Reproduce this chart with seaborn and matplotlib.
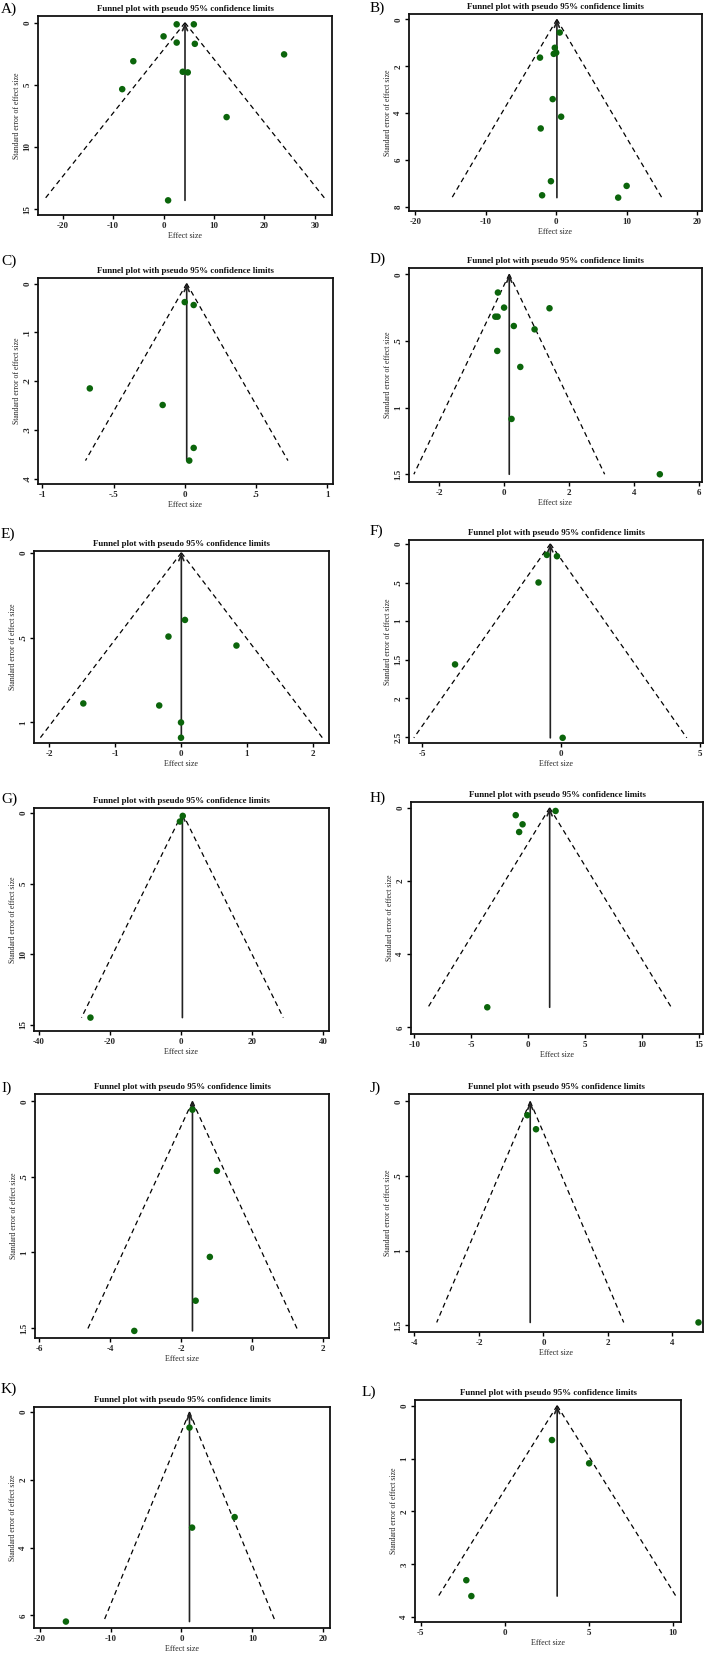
import numpy as np
import pandas as pd
import matplotlib
matplotlib.use("Agg")
import matplotlib.pyplot as plt
import seaborn as sns

# ---------------- data (effect size, standard error, pooled estimate) ----------------
panel_names = ["A)", "B)", "C)", "D)", "E)", "F)", "G)", "H)", "I)", "J)", "K)", "L)"]

es_A = [2.6, 6.0, 0.0, 2.6, 6.2, 23.9, -6.0, 3.8, 4.8, -8.2, 12.5, 0.9]
se_A = [0.13, 0.13, 1.1, 1.6, 1.7, 2.55, 3.1, 3.95, 4.0, 5.35, 7.6, 14.3]
theta_A = 4.25

es_B = [0.5, -0.2, 0.0, -0.35, -2.3, -0.5, 0.7, -2.2, -0.75, 10.0, -2.0, 8.8]
se_B = [0.56, 1.21, 1.42, 1.47, 1.63, 3.4, 4.15, 4.65, 6.9, 7.1, 7.5, 7.6]
theta_B = 0.1

es_C = [0.0, 0.063, -0.667, -0.155, 0.063, 0.032]
se_C = [0.038, 0.044, 0.215, 0.249, 0.337, 0.363]
theta_C = 0.014

es_D = [-0.19, 0.0, 1.40, -0.27, -0.20, 0.30, 0.94, -0.21, 0.50, 0.23, 4.80]
se_D = [0.137, 0.25, 0.255, 0.318, 0.318, 0.388, 0.413, 0.575, 0.695, 1.085, 1.50]
theta_D = 0.16

es_E = [0.06, -0.19, 0.84, -1.48, -0.33, 0.0, 0.0]
se_E = [0.396, 0.494, 0.547, 0.888, 0.90, 1.0, 1.09]
theta_E = 0.005

es_F = [-0.51, -0.145, -0.81, -3.82, 0.06]
se_F = [0.143, 0.16, 0.50, 1.56, 2.51]
theta_F = -0.385

es_G = [0.5, -0.3, -25.5]
se_G = [0.2, 0.6, 14.5]
theta_G = 0.4

es_H = [2.4, -1.1, -0.5, -0.8, -3.6]
se_H = [0.085, 0.2, 0.45, 0.66, 5.45]
theta_H = 1.88

es_I = [-1.68, -0.99, -1.19, -1.59, -3.32]
se_I = [0.055, 0.46, 1.03, 1.32, 1.52]
theta_I = -1.68

es_J = [-0.50, -0.23, 4.81]
se_J = [0.092, 0.186, 1.48]
theta_J = -0.41

es_K = [1.13, 7.5, 1.5, -16.3]
se_K = [0.46, 3.1, 3.41, 6.18]
theta_K = 1.13

es_L = [2.79, 5.0, -2.3, -2.0]
se_L = [0.65, 1.09, 3.3, 3.6]
theta_L = 3.1

# tick values / labels
xt_A = [-20, -10, 0, 10, 20, 30]; xl_A = ["-20", "-10", "0", "10", "20", "30"]
yt_A = [0, 5, 10, 15];            yl_A = ["0", "5", "10", "15"]
xt_B = [-20, -10, 0, 10, 20];     xl_B = ["-20", "-10", "0", "10", "20"]
yt_B = [0, 2, 4, 6, 8];           yl_B = ["0", "2", "4", "6", "8"]
xt_C = [-1, -0.5, 0, 0.5, 1];     xl_C = ["-1", "-.5", "0", ".5", "1"]
yt_C = [0, 0.1, 0.2, 0.3, 0.4];   yl_C = ["0", ".1", ".2", ".3", ".4"]
xt_D = [-2, 0, 2, 4, 6];          xl_D = ["-2", "0", "2", "4", "6"]
yt_D = [0, 0.5, 1, 1.5];          yl_D = ["0", ".5", "1", "1.5"]
xt_E = [-2, -1, 0, 1, 2];         xl_E = ["-2", "-1", "0", "1", "2"]
yt_E = [0, 0.5, 1];               yl_E = ["0", ".5", "1"]
xt_F = [-5, 0, 5];                xl_F = ["-5", "0", "5"]
yt_F = [0, 0.5, 1, 1.5, 2, 2.5];  yl_F = ["0", ".5", "1", "1.5", "2", "2.5"]
xt_G = [-40, -20, 0, 20, 40];     xl_G = ["-40", "-20", "0", "20", "40"]
yt_G = [0, 5, 10, 15];            yl_G = ["0", "5", "10", "15"]
xt_H = [-10, -5, 0, 5, 10, 15];   xl_H = ["-10", "-5", "0", "5", "10", "15"]
yt_H = [0, 2, 4, 6];              yl_H = ["0", "2", "4", "6"]
xt_I = [-6, -4, -2, 0, 2];        xl_I = ["-6", "-4", "-2", "0", "2"]
yt_I = [0, 0.5, 1, 1.5];          yl_I = ["0", ".5", "1", "1.5"]
xt_J = [-4, -2, 0, 2, 4];         xl_J = ["-4", "-2", "0", "2", "4"]
yt_J = [0, 0.5, 1, 1.5];          yl_J = ["0", ".5", "1", "1.5"]
xt_K = [-20, -10, 0, 10, 20];     xl_K = ["-20", "-10", "0", "10", "20"]
yt_K = [0, 2, 4, 6];              yl_K = ["0", "2", "4", "6"]
xt_L = [-5, 0, 5, 10];            xl_L = ["-5", "0", "5", "10"]
yt_L = [0, 1, 2, 3, 4];           yl_L = ["0", "1", "2", "3", "4"]

title_text = "Funnel plot with pseudo 95% confidence limits"
xlabel_text = "Effect size"
ylabel_text = "Standard error of effect size"

# ---------------- layout (pixels) ----------------
W, H = 704, 1653
layout = {
    "A)": dict(box=(38, 16, 332, 215), xlim=(-24.9, 33.4), ylim=(-0.54, 15.48), lab=(1, 9)),
    "B)": dict(box=(409, 14, 702, 211), xlim=(-20.9, 20.7), ylim=(-0.23, 8.17), lab=(370, 8)),
    "C)": dict(box=(38, 278, 333, 484), xlim=(-1.031, 1.042), ylim=(-0.0114, 0.411), lab=(1, 261)),
    "D)": dict(box=(409, 268, 702, 482), xlim=(-2.93, 6.1), ylim=(-0.047, 1.558), lab=(370, 259)),
    "E)": dict(box=(34, 551, 329, 743), xlim=(-2.227, 2.242), ylim=(-0.01, 1.121), lab=(1, 534)),
    "F)": dict(box=(409, 540, 703, 743), xlim=(-5.48, 5.12), ylim=(-0.05, 2.577), lab=(370, 531)),
    "G)": dict(box=(34, 808, 329, 1031), xlim=(-41.4, 41.7), ylim=(-0.36, 15.45), lab=(1, 799)),
    "H)": dict(box=(411, 802, 703, 1034), xlim=(-10.3, 15.35), ylim=(-0.16, 6.18), lab=(370, 798)),
    "I)": dict(box=(35, 1094, 329, 1338), xlim=(-6.12, 2.17), ylim=(-0.049, 1.567), lab=(1, 1088)),
    "J)": dict(box=(409, 1094, 703, 1332), xlim=(-4.17, 4.95), ylim=(-0.05, 1.544), lab=(370, 1088)),
    "K)": dict(box=(34, 1407, 330, 1628), xlim=(-20.8, 20.95), ylim=(-0.147, 6.37), lab=(1, 1389)),
    "L)": dict(box=(415, 1400, 681, 1622), xlim=(-5.35, 10.46), ylim=(-0.107, 4.09), lab=(362, 1392)),
}

panels = {
    "A)": (es_A, se_A, theta_A, xt_A, xl_A, yt_A, yl_A),
    "B)": (es_B, se_B, theta_B, xt_B, xl_B, yt_B, yl_B),
    "C)": (es_C, se_C, theta_C, xt_C, xl_C, yt_C, yl_C),
    "D)": (es_D, se_D, theta_D, xt_D, xl_D, yt_D, yl_D),
    "E)": (es_E, se_E, theta_E, xt_E, xl_E, yt_E, yl_E),
    "F)": (es_F, se_F, theta_F, xt_F, xl_F, yt_F, yl_F),
    "G)": (es_G, se_G, theta_G, xt_G, xl_G, yt_G, yl_G),
    "H)": (es_H, se_H, theta_H, xt_H, xl_H, yt_H, yl_H),
    "I)": (es_I, se_I, theta_I, xt_I, xl_I, yt_I, yl_I),
    "J)": (es_J, se_J, theta_J, xt_J, xl_J, yt_J, yl_J),
    "K)": (es_K, se_K, theta_K, xt_K, xl_K, yt_K, yl_K),
    "L)": (es_L, se_L, theta_L, xt_L, xl_L, yt_L, yl_L),
}

sns.set_theme(style="white")
plt.rcParams["font.family"] = ["Liberation Serif", "DejaVu Serif"]
plt.rcParams["axes.linewidth"] = 1.3

DPI = 100
fig = plt.figure(figsize=(W / DPI, H / DPI), dpi=DPI)
fig.patch.set_facecolor("white")

DOT = "#0b650b"

for name in panel_names:
    es, se, theta, xt, xl, yt, yl = panels[name]
    L = layout[name]
    l, t, r, b = L["box"]
    ax = fig.add_axes([l / W, 1 - b / H, (r - l) / W, (b - t) / H])
    df = pd.DataFrame({"es": es, "se": se})

    # pseudo 95% confidence limits
    se_max = max(se)
    se_line = np.array([0.0, se_max])
    ax.plot(theta - 1.96 * se_line, se_line, color="black", lw=0.9, ls=(0, (4, 3)), zorder=2)
    ax.plot(theta + 1.96 * se_line, se_line, color="black", lw=0.9, ls=(0, (4, 3)), zorder=2)
    ax.annotate("", xy=(theta, 0), xytext=(theta, se_max),
                arrowprops=dict(arrowstyle="->,head_length=0.35,head_width=0.15",
                                color="#222222", lw=1.2, shrinkA=0, shrinkB=0),
                zorder=3)

    sns.scatterplot(data=df, x="es", y="se", ax=ax, color=DOT, s=22,
                    edgecolor="none", linewidth=0, zorder=4, legend=False)

    ax.set_xlim(*L["xlim"])
    ax.set_ylim(L["ylim"][1], L["ylim"][0])
    ax.set_xticks(xt)
    ax.set_xticklabels(xl, fontsize=6.5, fontweight="bold")
    ax.set_yticks(yt)
    ax.set_yticklabels(yl, fontsize=6.5, fontweight="bold", rotation=90, va="center")
    ax.tick_params(axis="both", which="major", direction="out", length=3, width=1,
                   color="black", pad=1.8, bottom=True, left=True)
    ax.set_xlabel(xlabel_text, fontsize=5.8, labelpad=1.5)
    ax.set_ylabel(ylabel_text, fontsize=5.6, labelpad=1.5)
    for sp in ax.spines.values():
        sp.set_color("#111111")
        sp.set_linewidth(1.3)
    ax.grid(False)
    ax.set_facecolor("white")

    # title and panel letter
    fig.text((l + r) / 2 / W, 1 - (t - 7) / H, title_text, ha="center", va="center",
             fontsize=6.4, fontweight="bold", color="#111111")
    lx, ly = L["lab"]
    fig.text(lx / W, 1 - ly / H, name, ha="left", va="center", fontsize=11, color="black")

fig.savefig("out.png", dpi=DPI, facecolor="white")
